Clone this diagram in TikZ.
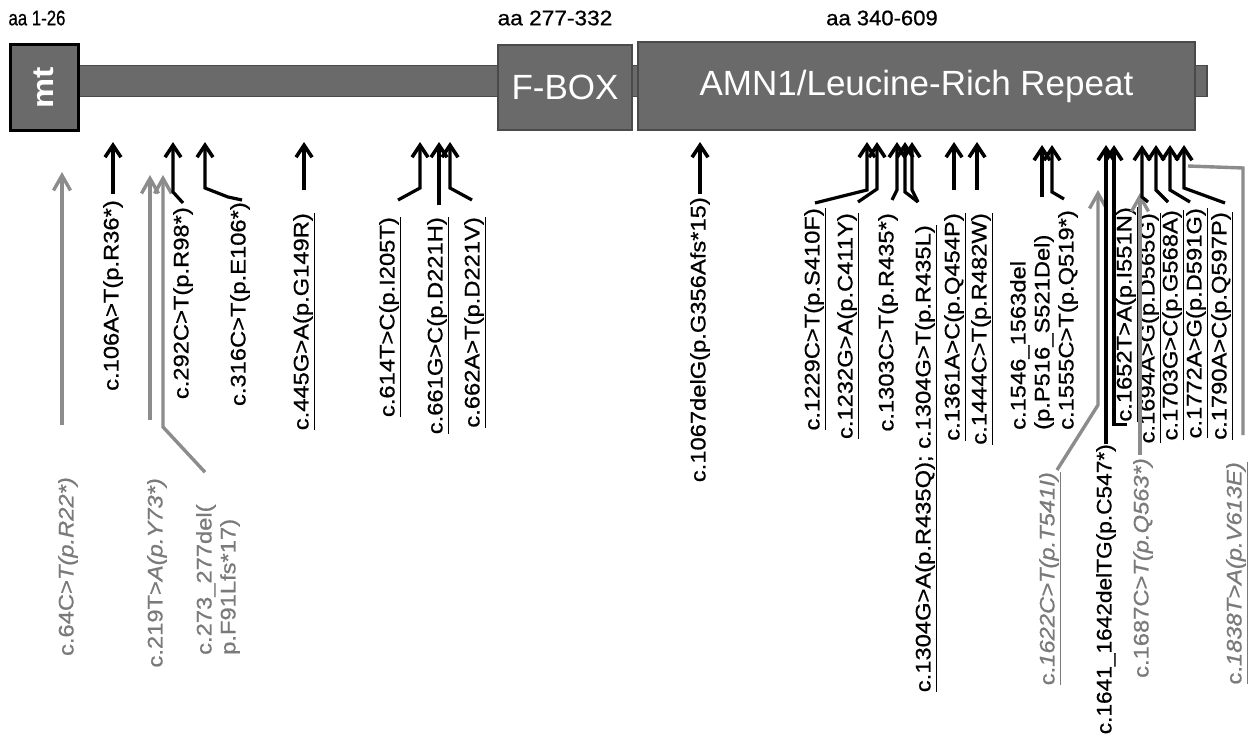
\documentclass[tikz,border=0pt]{standalone}
\usepackage{fontspec}
\setmainfont{Liberation Sans}
\newfontfamily\labf{Liberation Sans}[FakeBold=0.7]
\usepackage{graphicx}
\usetikzlibrary{arrows.meta}
\definecolor{domfill}{HTML}{6A6A6A}
\definecolor{domline}{HTML}{4A4A4A}
\definecolor{gtxt}{HTML}{7A7A7A}
\definecolor{garw}{HTML}{8C8C8C}
\newcommand\vs[1]{\scalebox{1.13}[1]{#1}}
\tikzset{
 lab/.style={rotate=90, anchor=east, inner sep=0pt, font=\labf\fontsize{21}{24}\selectfont, text=black},
 blab/.style={rotate=90, anchor=west, inner sep=0pt, font=\labf\fontsize{21}{24}\selectfont, align=left},
 glab/.style={lab, text=gtxt},
 barr/.style={draw=black, line width=3.2pt, -{Straight Barb[length=12pt,width=16pt,line width=3.6pt]}},
 garr/.style={draw=garw, line width=3.4pt, -{Straight Barb[length=15pt,width=17pt,line width=3.4pt]}},
 gline/.style={draw=garw, line width=3.4pt},
 dom/.style={draw=domline, fill=domfill, line width=2pt, text=white, inner sep=0pt},
 barbox/.style={draw=domline, fill=domfill, line width=1.5pt, inner sep=0pt},
 aalab/.style={font=\labf\fontsize{21}{22}\selectfont, inner sep=0pt},
}
\begin{document}
\begin{tikzpicture}[x=1pt, y=-1pt]
\useasboundingbox[fill=white] (0,0) rectangle (1254,742);
% domains
\node[barbox, minimum width=1130pt, minimum height=31pt] (bar) at (642,81) {};
\node[dom, draw=black, line width=3pt, minimum width=68pt, minimum height=86pt] (mt) at (44,87.5)
  {\rotatebox{90}{\fontsize{30}{30}\selectfont\bfseries\vs{mt}}};
\node[dom, minimum width=134pt, minimum height=85pt] (fbox) at (565,87.5) {\fontsize{35}{35}\selectfont F-BOX};
\node[dom, minimum width=557pt, minimum height=88pt] (amn) at (916.5,86) {\fontsize{35}{35}\selectfont AMN1/Leucine-Rich Repeat};
\node[aalab] (aa1) at (37,18) {\scalebox{0.8}[1]{aa 1-26}};
\node[aalab] (aa2) at (555,18) {\scalebox{1.08}[1]{aa 277-332}};
\node[aalab] (aa3) at (882,18) {\scalebox{1.05}[1]{aa 340-609}};

% tips
\coordinate (t106) at (113,142); \coordinate (t292) at (173,142); \coordinate (t316) at (205,142);
\coordinate (t445) at (304,142); \coordinate (t614) at (420,142); \coordinate (t661) at (439,142);
\coordinate (t662) at (450,142); \coordinate (t1067) at (700,142); \coordinate (t1229) at (867,142);
\coordinate (t1232) at (877,142); \coordinate (t1303) at (897,142); \coordinate (t1304a) at (905,142);
\coordinate (t1304b) at (912,142); \coordinate (t1361) at (954,142); \coordinate (t1444) at (977,142);
\coordinate (t1546) at (1042,145); \coordinate (t1555) at (1052,145); \coordinate (t1641) at (1106,145);
\coordinate (t1652) at (1114,145); \coordinate (t1694) at (1142,145); \coordinate (t1703) at (1156,145);
\coordinate (t1772) at (1170,145); \coordinate (t1790) at (1184,145);
\coordinate (tg64) at (62,172); \coordinate (tg219) at (150,175); \coordinate (tg273) at (163,175);
\coordinate (tg1622) at (1098,190); \coordinate (tg1687) at (1140,193); \coordinate (c1838) at (1188,166);

% black labels
\node[lab] (l106) at (113,200) {\vs{c.106A>T(p.R36*)}};
\node[lab] (l292) at (183,207) {\vs{c.292C>T(p.R98*)}};
\node[lab] (l316) at (240,202) {\vs{c.316C>T(p.E106*)}};
\node[lab] (l445) at (304,213) {\vs{\underline{c.445G>A(p.G149R)}}};
\node[lab] (l614) at (390,217) {\vs{\underline{c.614T>C(p.I205T)}}};
\node[lab] (l661) at (438,217) {\vs{\underline{c.661G>C(p.D221H)}}};
\node[lab] (l662) at (475,217) {\vs{\underline{c.662A>T(p.D221V)}}};
\node[lab] (l1067) at (700,197) {\vs{c.1067delG(p.G356Afs*15)}};
\node[lab] (l1229) at (815,208) {\vs{\underline{c.1229C>T(p.S410F)}}};
\node[lab] (l1232) at (848,213) {\vs{\underline{c.1232G>A(p.C411Y)}}};
\node[lab] (l1303) at (888,213) {\vs{c.1303C>T(p.R435*)}};
\node[lab] (l1304) at (926,225) {\vs{\underline{c.1304G>A(p.R435Q); c.1304G>T(p.R435L)}}};
\node[lab] (l1361) at (955,213) {\vs{\underline{c.1361A>C(p.Q454P)}}};
\node[lab] (l1444) at (982,213) {\vs{\underline{c.1444C>T(p.R482W)}}};
\node[blab] (l1546) at (1044,430) {\vs{c.1546\_1563del}\\\vs{(p.P516\_S521Del)}\\\vs{c.1555C>T(p.Q519*)}};
\node[lab] (l1641) at (1106,444) {\scalebox{1.08}[1]{c.1641\_1642delTG(p.C547*)}};
\node[lab] (l1652) at (1127,207) {\vs{\underline{c.1652T>A(p.I551N)}}};
\node[lab] (l1694) at (1150,213) {\vs{\underline{c.1694A>G(p.D565G)}}};
\node[lab] (l1703) at (1173,210) {\vs{\underline{c.1703G>C(p.G568A)}}};
\node[lab] (l1772) at (1197,208) {\vs{\underline{c.1772A>G(p.D591G)}}};
\node[lab] (l1790) at (1222,212) {\vs{\underline{c.1790A>C(p.Q597P)}}};

% gray labels
\node[glab] (g64) at (68,477) {\vs{c.64C>\textit{T(p.R22*)}}};
\node[glab] (g219) at (157,478) {\vs{c.219T>\textit{A(p.Y73*)}}};
\node[blab, text=gtxt] (g273) at (218,655) {\vs{c.273\_277del(}\\\vs{p.F91Lfs*17)}};
\node[glab] (g1622) at (1050,472) {\vs{\underline{c.\textit{1622C>T(p.T541I)}}}};
\node[glab] (g1687) at (1143,458) {\vs{c.1687C>\textit{T(p.Q563*)}}};
\node[glab] (g1838) at (1237,462) {\vs{\underline{c.\textit{1838T>A(p.V613E)}}}};

% gray connectors
\draw[garr] (g64.east) ++(-6,-52) -- (tg64);
\draw[garr] (g219.east) ++(-7,-58) -- (tg219);
\draw[garr] (g273.east) ++(-13,-32) -- (163,427) -- (tg273);
\draw[garr] (g1622.east) ++(7,-2) -- (1098,405) -- (tg1622);
\draw[garr] (g1687.east) ++(-3,-3) -- (tg1687);
\draw[gline] (g1838.east) ++(6,-27) -- (1243,168) -- (c1838);

% black connectors
\draw[barr, shorten <=6pt] (l106.east) -- (t106);
\draw[barr] (l292.east) ++(0,-4) -- (173,192) -- (t292);
\draw[barr] (l316.east) ++(2,-2) -- (228,197) -- (205,188) -- (t316);
\draw[barr] (l445.east) ++(0,-23) -- (t445);
\draw[barr] (l614.east) ++(8,-17) -- (420,188) -- (t614);
\draw[barr] (l661.east) ++(1,-12) -- (t661);
\draw[barr] (l662.east) ++(-3,-17) -- (450,188) -- (t662);
\draw[barr, shorten <=3pt] (l1067.east) -- (t1067);
\draw[barr] (l1229.east) ++(0,-5) -- (867,190) -- (t1229);
\draw[barr] (l1232.east) ++(10,-11) -- (877,189) -- (t1232);
\draw[barr] (l1303.east) ++(4,-13) -- (897,190) -- (t1303);
\draw[barr] (l1304.east) ++(-8,-23) -- (912,190) -- (t1304b);
\draw[barr] (l1304.east) ++(-8,-23) -- (905,192) -- (t1304a);
\draw[barr] (l1361.east) ++(-1,-23) -- (t1361);
\draw[barr] (l1444.east) ++(-5,-23) -- (t1444);
\draw[barr] (l1546.east) ++(-2,-13) -- (t1546);
\draw[barr] (l1546.east) ++(20,-11) -- (1052,192) -- (t1555);
\draw[barr] (l1641.east) -- (t1641);
\draw[barr] (l1652.west) ++(0,3) -- ++(-13,0) -- (t1652);
\draw[barr] (l1694.east) ++(-2,-11) -- (1142,197) -- (t1694);
\draw[barr] (l1703.east) ++(-5,-8) -- (1156,190) -- (t1703);
\draw[barr] (l1772.east) ++(-7,-6) -- (1170,190) -- (t1772);
\draw[barr] (l1790.east) ++(3,-9) -- (1184,188) -- (t1790);
\end{tikzpicture}
\end{document}
